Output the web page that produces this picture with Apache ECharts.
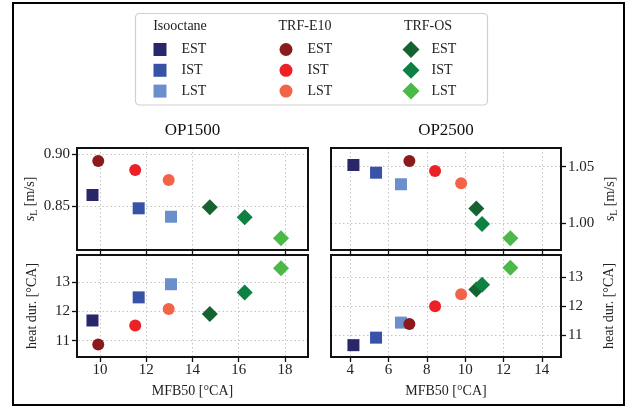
<!DOCTYPE html>
<html><head><meta charset="utf-8">
<script src="https://cdn.jsdelivr.net/npm/echarts@6/dist/echarts.min.js"></script>
<style>html,body{margin:0;padding:0;background:#fff}#c{width:630px;height:410px}</style>
</head><body><div id="c"></div>
<script>
// ---- data ----
const fuels = ['Isooctane', 'TRF-E10', 'TRF-OS'];
const timings = ['EST', 'IST', 'LST'];
// order: Iso EST, IST, LST, E10 EST, IST, LST, OS EST, IST, LST
const op1500_mfb50 = [9.67, 11.67, 13.07, 9.92, 11.52, 12.97, 14.75, 16.26, 17.83];
const op1500_sL    = [0.8606, 0.8478, 0.8397, 0.8933, 0.8846, 0.8750, 0.8487, 0.8391, 0.8190];
const op1500_heat  = [11.69, 12.48, 12.93, 10.87, 11.52, 12.08, 11.91, 12.65, 13.48];
const op2500_mfb50 = [4.17, 5.35, 6.65, 7.09, 8.43, 9.79, 10.58, 10.88, 12.36];
const op2500_sL    = [1.0515, 1.0447, 1.0345, 1.0550, 1.0462, 1.0354, 1.0132, 0.9994, 0.9868];
const op2500_heat  = [10.65, 10.91, 11.43, 11.38, 12.00, 12.41, 12.58, 12.74, 13.33];
const xTicks1500 = [10, 12, 14, 16, 18];
const xTicks2500 = [4, 6, 8, 10, 12, 14];
const sLTicks1500 = [0.85, 0.90];
const sLTicks2500 = [1.00, 1.05];
const heatTicks1500 = [11, 12, 13];
const heatTicks2500 = [11, 12, 13];
const opTitles = ['OP1500', 'OP2500'];

// ---- styles ----
const FONT = '"Liberation Serif", "Times New Roman", serif';
const colors = [
  ['#29266a', '#3752a6', '#6a8fcc'],
  ['#8b1a1c', '#ec2025', '#f26448'],
  ['#166332', '#0d8142', '#4cb848']
];
const symbols = ['rect', 'circle', 'diamond'];
const symSizes = [12, 12, 16];

const grids = [
  {left: 77, top: 148, width: 231, height: 102},
  {left: 77, top: 255, width: 231, height: 102},
  {left: 331, top: 148, width: 230, height: 102},
  {left: 331, top: 255, width: 230, height: 102}
];
const panels = [
  {x: op1500_mfb50, y: op1500_sL,   xr: [9, 19], yr: [0.8077, 0.9058], xt: xTicks1500, yt: sLTicks1500, showX: false, side: 'left', name: 'sL', dec: 2},
  {x: op1500_mfb50, y: op1500_heat, xr: [9, 19], yr: [10.44, 13.93],  xt: xTicks1500, yt: heatTicks1500, showX: true, side: 'left', name: 'heat', dec: 0},
  {x: op2500_mfb50, y: op2500_sL,   xr: [3, 15], yr: [0.9765, 1.0665], xt: xTicks2500, yt: sLTicks2500, showX: false, side: 'right', name: 'sL', dec: 2},
  {x: op2500_mfb50, y: op2500_heat, xr: [3, 15], yr: [10.24, 13.77],  xt: xTicks2500, yt: heatTicks2500, showX: true, side: 'right', name: 'heat', dec: 0}
];

const gridLineStyle = {color: '#c4c4c4', width: 1, type: [1.5, 2.5]};
const tickStyle = {color: '#111', width: 1.3};

const xAxis = panels.map((p, i) => ({
  type: 'value', gridIndex: i, min: p.xr[0], max: p.xr[1], position: 'bottom',
  axisLine: {show: false},
  axisTick: {show: true, length: 5, inside: false, customValues: p.xt, lineStyle: tickStyle},
  axisLabel: {show: p.showX, customValues: p.xt, margin: 6, fontFamily: FONT, fontSize: 15, color: '#222'},
  splitLine: {show: false},
  name: p.showX ? 'MFB50 [°CA]' : '', nameLocation: 'middle', nameGap: 27,
  nameTextStyle: {fontFamily: FONT, fontSize: 14, color: '#222'}
})).concat(panels.map((p, i) => ({
  // dotted grid lines drawn as full-height inside ticks
  type: 'value', gridIndex: i, min: p.xr[0], max: p.xr[1], position: 'top', z: 0,
  axisLine: {show: false}, axisLabel: {show: false}, splitLine: {show: false},
  axisTick: {show: true, inside: true, length: grids[i].height, customValues: p.xt, lineStyle: gridLineStyle}
})));

const nameRich = {
  s: {fontFamily: FONT, fontSize: 14, fontStyle: 'italic', color: '#222'},
  L: {fontFamily: FONT, fontSize: 10, color: '#222', padding: [7, 0, 0, 0]},
  t: {fontFamily: FONT, fontSize: 14, color: '#222'}
};
const yAxis = panels.map((p, i) => ({
  type: 'value', gridIndex: i, min: p.yr[0], max: p.yr[1], position: p.side,
  axisLine: {show: false},
  axisTick: {show: true, length: 5, inside: false, customValues: p.yt, lineStyle: tickStyle},
  axisLabel: {show: true, customValues: p.yt, margin: 7, fontFamily: FONT, fontSize: 15, color: '#222',
              formatter: v => v.toFixed(p.dec)},
  splitLine: {show: false},
  name: p.name === 'sL' ? '{s|s}{L|L}{t| [m/s]}' : 'heat dur. [°CA]',
  nameLocation: 'middle', nameRotate: 90,
  nameGap: p.side === 'left' ? 38 : 41,
  nameTextStyle: {fontFamily: FONT, fontSize: 14, color: '#222', rich: nameRich}
})).concat(panels.map((p, i) => ({
  type: 'value', gridIndex: i, min: p.yr[0], max: p.yr[1], position: p.side === 'left' ? 'right' : 'left', z: 0,
  axisLine: {show: false}, axisLabel: {show: false}, splitLine: {show: false},
  axisTick: {show: true, inside: true, length: grids[i].width, customValues: p.yt, lineStyle: gridLineStyle}
})));

const series = [];
panels.forEach((p, pi) => {
  fuels.forEach((f, fi) => {
    timings.forEach((t, ti) => {
      const k = fi * 3 + ti;
      series.push({
        type: 'scatter', name: f + ' ' + t, xAxisIndex: pi, yAxisIndex: pi,
        data: [[p.x[k], p.y[k]]],
        symbol: symbols[fi], symbolSize: symSizes[fi],
        itemStyle: {color: colors[fi][ti], opacity: 1},
        emphasis: {disabled: true}, silent: true, z: 5
      });
    });
  });
});

const legendLefts = [148.5, 274.5, 397.5];
const legendIcon = [13, 13, 17];
const legendPad = [10, 10, 7];
const legend = fuels.map((f, fi) => ({
  orient: 'vertical', selectedMode: false,
  left: legendLefts[fi], top: 44.5 - Math.max(legendIcon[fi], 14) / 2,
  itemWidth: legendIcon[fi], itemHeight: legendIcon[fi],
  itemGap: 20.8 - Math.max(legendIcon[fi], 14),
  data: timings.map(t => ({name: f + ' ' + t, icon: symbols[fi]})),
  formatter: n => n.split(' ').pop(),
  textStyle: {fontFamily: FONT, fontSize: 14, color: '#222', lineHeight: 14, padding: [0, 0, 0, legendPad[fi]]}
}));

const headerX = [180, 305, 428];
const graphic = [
  {type: 'rect', shape: {x: 13, y: 3, width: 611, height: 402}, style: {fill: 'none', stroke: '#000', lineWidth: 2}, z: 100, silent: true},
  {type: 'rect', shape: {x: 135.5, y: 13.5, width: 352, height: 91.5, r: 4}, style: {fill: '#fff', stroke: '#cfcfcf', lineWidth: 1.2}, z: -1, silent: true}
].concat(fuels.map((f, fi) => ({
  type: 'text', x: headerX[fi], y: 26, silent: true,
  style: {text: f, align: 'center', verticalAlign: 'middle', font: '14px ' + FONT, fill: '#222'}
}))).concat(opTitles.map((t, i) => ({
  type: 'text', x: grids[i * 2].left + grids[i * 2].width / 2, y: 131, silent: true,
  style: {text: t, align: 'center', verticalAlign: 'middle', font: '17px ' + FONT, fill: '#111'}
})));

const chart = echarts.init(document.getElementById('c'), null, {renderer: 'canvas'});
chart.setOption({
  animation: false,
  backgroundColor: '#fff',
  grid: grids.map(g => Object.assign({show: true, borderColor: '#111', borderWidth: 2, backgroundColor: 'transparent', z: 1}, g)),
  xAxis, yAxis, series, legend, graphic
});
</script>
</body></html>
